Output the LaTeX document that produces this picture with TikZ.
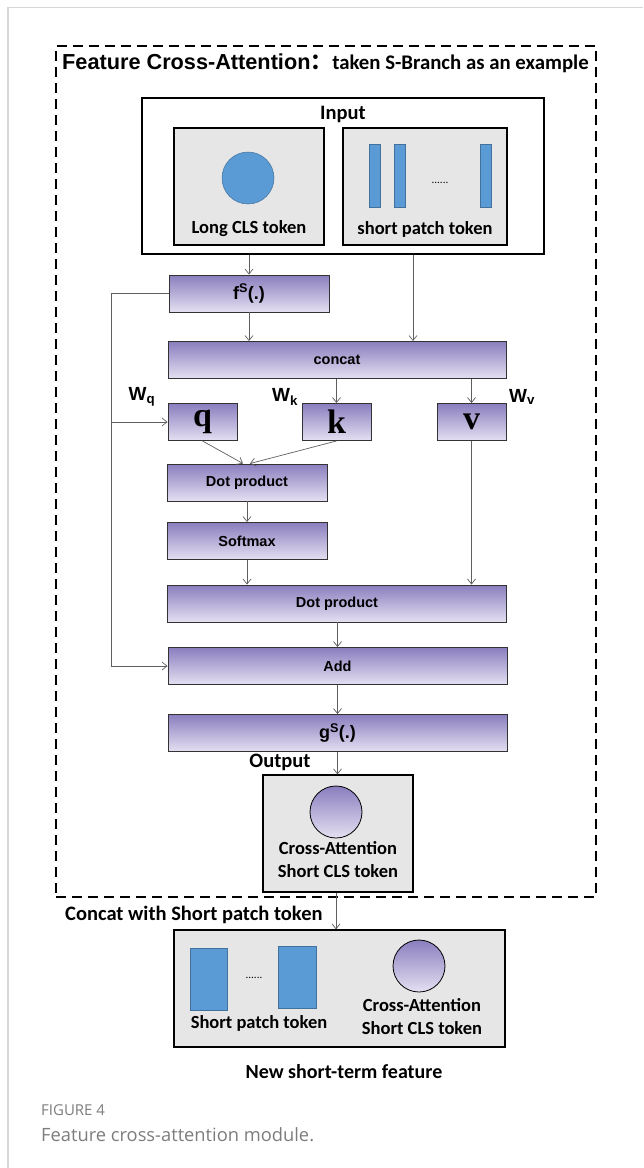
\documentclass[tikz,border=0pt]{standalone}
\usepackage{fontspec}
\setmainfont{Liberation Sans}
\newfontfamily\calfont{Carlito}
\newfontfamily\tmsfont{Liberation Serif}
\newfontfamily\capfont{Open Sans}
\newfontfamily\cjkfont{Noto Sans CJK SC}
\usetikzlibrary{arrows.meta}
\definecolor{ptop}{RGB}{138,126,190}
\definecolor{pbot}{RGB}{228,224,242}
\definecolor{gboxc}{RGB}{230,230,230}
\definecolor{blu}{RGB}{91,155,213}
\definecolor{bluedge}{RGB}{65,113,156}
\definecolor{arrc}{RGB}{95,95,95}
\definecolor{framec}{RGB}{215,215,215}
\definecolor{capgray}{RGB}{125,125,125}
\tikzset{
  pbox/.style={draw=black!80, line width=0.9pt, top color=ptop, bottom color=pbot, inner sep=0pt, minimum height=37pt, font=\bfseries\fontsize{14.5}{16}\selectfont},
  gbox/.style={draw=black, line width=1.2pt, fill=gboxc, inner sep=0pt, minimum height=117pt},
  bar/.style={draw=bluedge, line width=0.5pt, fill=blu, inner sep=0pt},
  bcirc/.style={circle, draw=bluedge, line width=0.5pt, fill=blu, inner sep=0pt, minimum size=52pt},
  pcirc/.style={circle, draw=black, line width=0.8pt, top color=ptop, bottom color=pbot, inner sep=0pt, minimum size=52pt},
  arrow/.style={draw=arrc, line width=0.7pt, -{Straight Barb[length=5pt, width=8pt]}},
  ctext/.style={inner sep=0pt, font=\calfont\bfseries\fontsize{18.5}{22}\selectfont},
  qkv/.style={pbox, minimum width=69pt, font=\tmsfont\bfseries\fontsize{34}{34}\selectfont},
  wlab/.style={inner sep=0pt, font=\bfseries\fontsize{19}{20}\selectfont}
}
\begin{document}
\begin{tikzpicture}[x=1pt, y=-1pt]
\useasboundingbox (0,0) rectangle (643,1168);
\fill[white] (0,0) rectangle (643,1168);
\draw[framec, line width=1.2pt] (8,1168) -- (8,7.5) -- (643,7.5);

% dashed frame
\node[draw, line width=2.8pt, dash pattern=on 10pt off 6pt, minimum width=540pt, minimum height=851pt, inner sep=0pt] (outer) at (326,471.5) {};
\node[anchor=west, inner sep=0pt] (title) at (62,63) {\bfseries\fontsize{21.7}{24}\selectfont Feature Cross-Attention{\cjkfont\bfseries ：}{\calfont\bfseries\fontsize{20.8}{24}\selectfont taken S-Branch as an example}};

% input
\node[draw, line width=1.2pt, fill=white, minimum width=402pt, minimum height=156pt, inner sep=0pt] (input) at (343,176) {};
\node[ctext, font=\calfont\bfseries\fontsize{20.5}{24}\selectfont] (inlbl) at (343,114) {Input};
\node[gbox, minimum width=150pt] (lcls) at (249,186.5) {};
\node[gbox, minimum width=164pt] (sbox) at (425,186.5) {};
\node[bcirc] (c1) at (248,178) {};
\node[bar, minimum width=11pt, minimum height=63pt] (b1) at (374.5,175.5) {};
\node[bar, minimum width=11pt, minimum height=63pt] (b2) at (399.5,175.5) {};
\node[bar, minimum width=11pt, minimum height=63pt] (b3) at (485.5,175.5) {};
\node[inner sep=0pt, font=\calfont\fontsize{11}{12}\selectfont] (d1) at (440,183) {......};
\node[ctext] (l1) at (249,229) {Long CLS token};
\node[ctext] (l2) at (425,229) {short patch token};

% processing boxes
\node[pbox, minimum width=160pt, font=\bfseries\fontsize{18}{20}\selectfont] (fs) at (249,293.5) {f\textsuperscript{S}(.)};
\node[pbox, minimum width=338pt] (concat) at (337,360) {concat};
\node[qkv] (q) at (202.5,422) {q};
\node[qkv] (k) at (336.5,422) {k};
\node[qkv] (v) at (471.5,422) {v};
\node[wlab] (wq) at (142,397) {W\textsubscript{q}};
\node[wlab] (wk) at (285,397) {W\textsubscript{k}};
\node[wlab] (wv) at (522,397) {W\textsubscript{v}};
\node[pbox, minimum width=160pt] (dp1) at (247,482.5) {Dot product};
\node[pbox, minimum width=160pt] (sm) at (247,541) {Softmax};
\node[pbox, minimum width=339pt] (dp2) at (337,603.5) {Dot product};
\node[pbox, minimum width=339pt] (add) at (337.5,666) {Add};
\node[pbox, minimum width=339pt, font=\bfseries\fontsize{18}{20}\selectfont] (gs) at (337.5,733) {g\textsuperscript{S}(.)};

% output
\node[ctext, font=\calfont\bfseries\fontsize{20.5}{24}\selectfont] (outlbl) at (280,762) {Output};
\node[gbox, minimum width=150pt] (outbox) at (338,833.5) {};
\node[pcirc] (c2) at (336,812) {};
\node[ctext] (o1) at (338,848) {Cross-Attention};
\node[ctext] (o2) at (338,871) {Short CLS token};

% after
\node[ctext, anchor=west, font=\calfont\bfseries\fontsize{20.5}{24}\selectfont] (cwl) at (65,915) {Concat with Short patch token};
\node[gbox, minimum width=331pt] (newbox) at (339.5,988.5) {};
\node[bar, minimum width=37pt, minimum height=62pt] (nb1) at (208.5,979) {};
\node[bar, minimum width=38pt, minimum height=62pt] (nb2) at (297,977) {};
\node[inner sep=0pt, font=\calfont\fontsize{11}{12}\selectfont] (d2) at (254,978) {......};
\node[ctext] (n1) at (259,1023) {Short patch token};
\node[pcirc] (c3) at (419,966) {};
\node[ctext] (n2) at (422,1005) {Cross-Attention};
\node[ctext] (n3) at (422,1028) {Short CLS token};
\node[ctext, font=\calfont\bfseries\fontsize{20}{24}\selectfont] (nst) at (344,1072) {New short-term feature};

% caption
\node[anchor=west, inner sep=0pt, text=capgray, font=\capfont\fontsize{15}{17}\selectfont] (fig) at (41,1110) {FIGURE 4};
\node[anchor=west, inner sep=0pt, text=capgray, font=\capfont\fontsize{18.3}{21}\selectfont] (cap) at (41,1135) {Feature cross-attention module.};

% connectors
\coordinate (lx) at (111,0);
\draw[arrow] (lcls.south |- input.south) -- (fs.north);
\draw[arrow] ([xshift=-12pt]sbox.south |- input.south) -- ([xshift=-12pt]sbox.south |- concat.north);
\draw[arrow] (fs.south) -- (fs.south |- concat.north);
\draw[arrow] (k.north |- concat.south) -- (k.north);
\draw[arrow] (v.north |- concat.south) -- (v.north);
\draw[arrow] (fs.west) -- (fs.west -| lx) -- (add.west -| lx) -- (add.west);
\draw[arrow] (q.west -| lx) -- (q.west);
\draw[arrow] (q.south) -- ([xshift=-4pt]dp1.north);
\draw[arrow] (k.south) -- ([xshift=3pt]dp1.north);
\draw[arrow] (dp1.south) -- (sm.north);
\draw[arrow] (sm.south) -- (sm.south |- dp2.north);
\draw[arrow] (v.south) -- (v.south |- dp2.north);
\draw[arrow] (add.north |- dp2.south) -- (add.north);
\draw[arrow] (add.south) -- (gs.north);
\draw[arrow] (gs.south) -- (gs.south |- outbox.north);
\draw[arrow] (outbox.south -| c2) -- (c2 |- newbox.north);
\end{tikzpicture}
\end{document}
